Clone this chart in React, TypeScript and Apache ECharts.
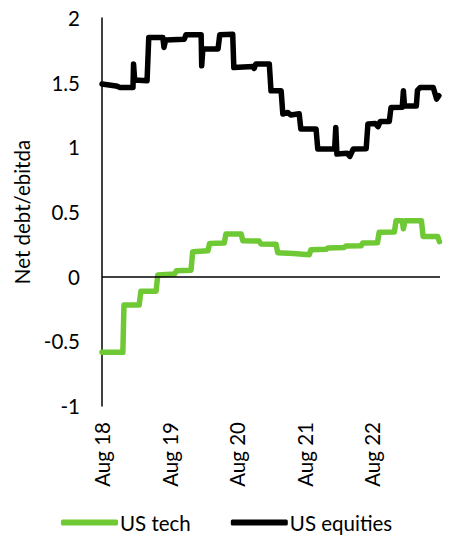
import React, { useEffect, useRef } from "react";
import * as echarts from "echarts";

// months since Aug 2018
const techMonths = [0, 3.7, 3.9, 6.6, 6.9, 9.6, 9.9, 12.9, 13.2, 15.8, 16.1, 18.8, 19.1, 21.7, 22.0, 24.7, 25.0, 27.9, 28.2, 30.9, 31.2, 34, 36.8, 37.1, 39.8, 40.1, 43.0, 43.3, 46.0, 46.3, 48.9, 49.2, 51.9, 52.2, 53.3, 53.5, 53.8, 56.7, 57.0, 59.6, 59.9];
const techValues = [-0.585, -0.585, -0.22, -0.22, -0.113, -0.113, 0.013, 0.02, 0.046, 0.05, 0.193, 0.2, 0.257, 0.26, 0.33, 0.33, 0.278, 0.275, 0.253, 0.25, 0.185, 0.18, 0.17, 0.209, 0.212, 0.222, 0.225, 0.237, 0.24, 0.26, 0.262, 0.343, 0.345, 0.433, 0.433, 0.37, 0.433, 0.433, 0.31, 0.31, 0.27];

const eqMonths = [0, 2.5, 3.2, 5.5, 5.6, 5.8, 8.0, 8.3, 10.8, 11.0, 11.3, 14.6, 14.9, 17.6, 17.7, 17.9, 20.6, 20.9, 23.2, 23.4, 26.8, 27.0, 27.3, 29.7, 30.0, 31.8, 32.1, 33.0, 33.5, 35.0, 35.3, 38.0, 38.3, 41.3, 41.5, 41.7, 43.5, 44.0, 44.6, 46.9, 47.2, 48.5, 49.0, 49.4, 51.0, 51.3, 53.3, 53.5, 53.7, 55.8, 56.0, 56.5, 58.8, 59.4, 59.8];
const eqValues = [1.489, 1.475, 1.463, 1.463, 1.644, 1.52, 1.515, 1.849, 1.85, 1.772, 1.83, 1.835, 1.87, 1.87, 1.63, 1.76, 1.76, 1.87, 1.875, 1.617, 1.625, 1.61, 1.644, 1.644, 1.437, 1.437, 1.257, 1.27, 1.25, 1.26, 1.141, 1.141, 0.987, 0.99, 1.154, 0.948, 0.955, 0.93, 0.987, 0.99, 1.18, 1.185, 1.16, 1.2, 1.2, 1.308, 1.31, 1.437, 1.32, 1.32, 1.44, 1.463, 1.463, 1.373, 1.399];

const tickLabels = ["Aug 18", "Aug 19", "Aug 20", "Aug 21", "Aug 22"];
const seriesNames = ["US tech", "US equities"];
const FONT = "Lato, 'Noto Sans', sans-serif";
const FS = 20.5;

export default function App() {
  const ref = useRef<HTMLDivElement>(null);
  useEffect(() => {
    if (!ref.current) return;
    const chart = echarts.init(ref.current, undefined, { renderer: "svg" });
    chart.setOption({
      animation: false,
      textStyle: { fontFamily: FONT },
      grid: { left: 102, right: 9, top: 18, bottom: 134, containLabel: false },
      legend: {
        bottom: 2,
        left: 56,
        itemWidth: 57,
        itemHeight: 6,
        itemGap: 40,
        icon: "roundRect",
        textStyle: { fontSize: FS, color: "#000", fontFamily: FONT, padding: [0, 0, 0, -3] },
        data: seriesNames,
      },
      xAxis: {
        type: "value",
        min: 0,
        max: 60,
        interval: 12,
        axisLine: { show: false },
        axisTick: { show: false },
        splitLine: { show: false },
        axisLabel: {
          rotate: 90,
          fontSize: FS,
          color: "#000",
          margin: 16,
          showMaxLabel: false,
          formatter: (v: number) => tickLabels[Math.round(v / 12)] ?? "",
        },
      },
      yAxis: {
        type: "value",
        min: -1,
        max: 2,
        interval: 0.5,
        name: "Net debt/ebitda",
        nameLocation: "middle",
        nameRotate: 90,
        nameGap: 60,
        nameTextStyle: { fontSize: FS, color: "#000", fontFamily: FONT },
        axisLine: { show: true, lineStyle: { color: "#000", width: 1.5 } },
        axisTick: { show: false },
        splitLine: { show: false },
        axisLabel: { fontSize: FS, color: "#000", margin: 22 },
      },
      series: [
        {
          name: seriesNames[0],
          type: "line",
          showSymbol: false,
          symbol: "none",
          color: "#6FC935",
          lineStyle: { width: 5.5, color: "#6FC935", cap: "round", join: "round" },
          data: techMonths.map((m, i) => [m, techValues[i]]),
          markLine: {
            silent: true,
            symbol: "none",
            label: { show: false },
            lineStyle: { color: "#000", width: 1.5, type: "solid" },
            data: [{ yAxis: 0 }],
          },
          z: 3,
        },
        {
          name: seriesNames[1],
          type: "line",
          showSymbol: false,
          symbol: "none",
          color: "#000",
          lineStyle: { width: 5.5, color: "#000", cap: "round", join: "round" },
          data: eqMonths.map((m, i) => [m, eqValues[i]]),
          z: 2,
        },
      ],
    });
    return () => chart.dispose();
  }, []);
  return (
    <div
      ref={ref}
      style={{ position: "absolute", left: 0, top: 0, width: 449, height: 540, background: "#fff" }}
    />
  );
}
